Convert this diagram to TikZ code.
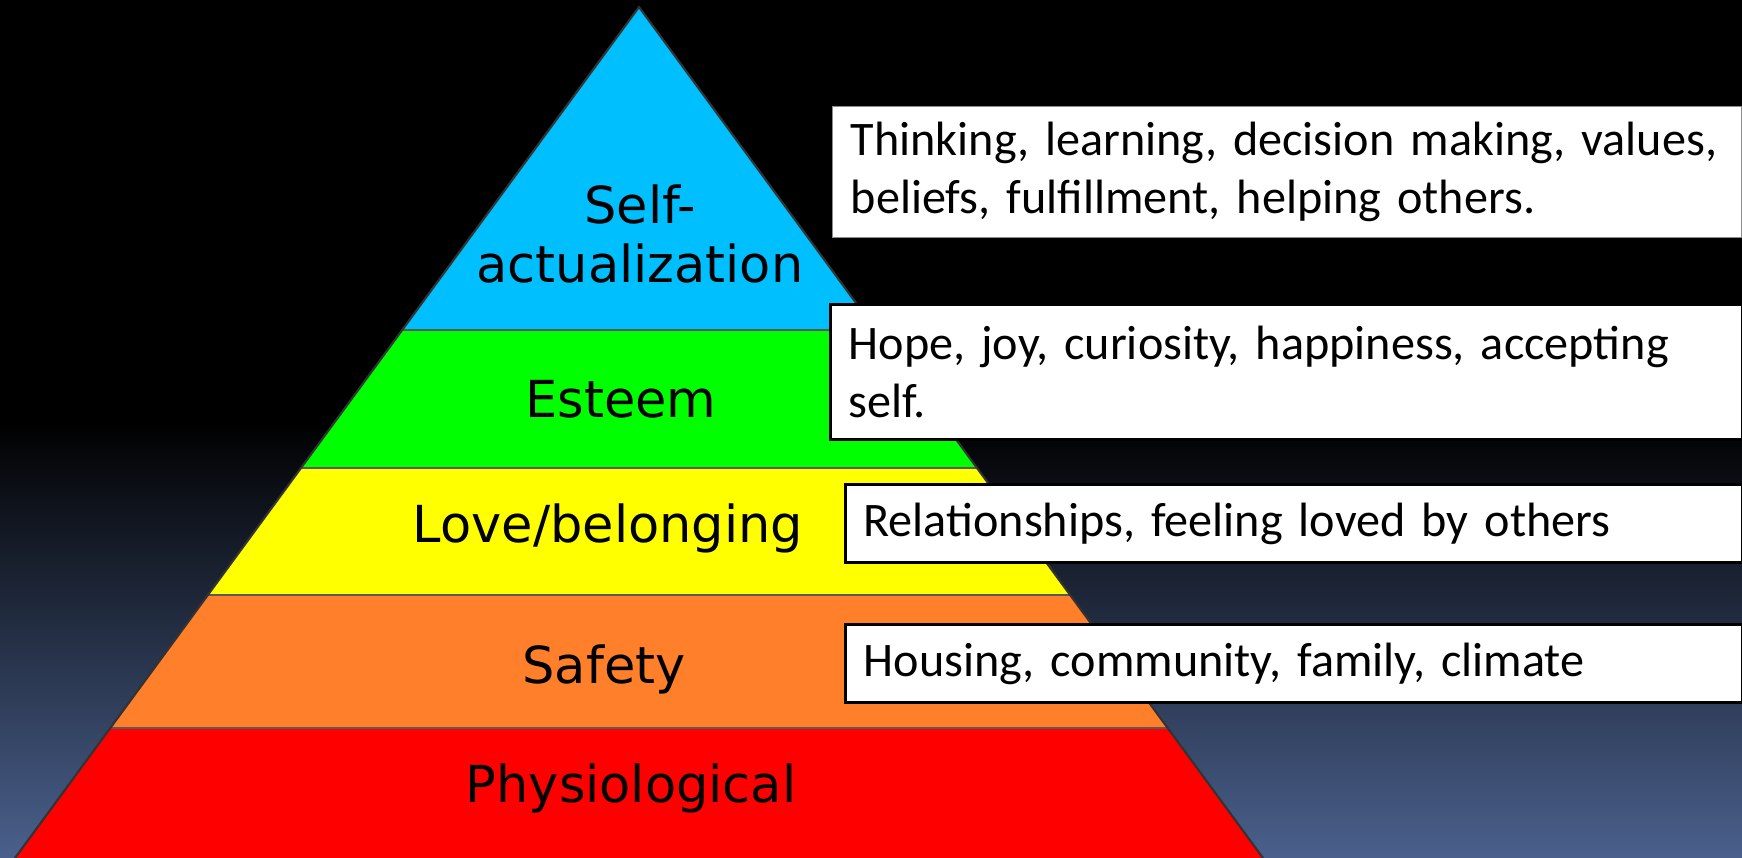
\documentclass[tikz,border=0pt]{standalone}
\usepackage{fontspec}
\newfontfamily\lvlfont{DejaVu Sans}
\newfontfamily\notefont{Carlito}
\usepackage{tikz}
\usetikzlibrary{calc}

\definecolor{tierblue}{RGB}{0,191,255}
\definecolor{tiergreen}{RGB}{0,255,0}
\definecolor{tieryellow}{RGB}{255,255,0}
\definecolor{tierorange}{RGB}{255,127,42}
\definecolor{tierred}{RGB}{255,0,0}
\definecolor{bgslate}{RGB}{74,96,140}

\begin{document}
\begin{tikzpicture}[x=0.01cm, y=-0.01cm,
 level/.style={font=\lvlfont\fontsize{14.5}{16.8}\selectfont, anchor=base,
   align=center, inner sep=0pt},
 note/.style={draw=black, line width=0.9pt, fill=white, anchor=north west,
   align=left, inner xsep=0.18cm, inner ysep=0pt,
   font=\notefont\fontsize{13.7}{16.4}\selectfont}]
 \useasboundingbox (0,0) rectangle (1742,858);
 % backdrop: black fading into slate towards the bottom
 \fill[black] (0,0) rectangle (1742,858);
 \shade[top color=black, bottom color=bgslate] (0,420) rectangle (1742,858);

 \coordinate (apex) at (639,7);
 \coordinate (bl) at (15,858);
 \coordinate (br) at (1263,858);
 \begin{scope}
  \clip (apex) -- (bl) -- (br) -- cycle;
  \fill[tierblue] (0,0) rectangle (1742,330);
  \fill[tiergreen] (0,330) rectangle (1742,468);
  \fill[tieryellow] (0,468) rectangle (1742,595);
  \fill[tierorange] (0,595) rectangle (1742,728);
  \fill[tierred] (0,728) rectangle (1742,858);
  \foreach \y in {330,468,595,728}
   \draw[black!65, line width=0.5pt] (0,\y) -- (1742,\y);
 \end{scope}
 \draw[black!80, line width=0.6pt, line join=round] (bl) -- (apex) -- (br);

 \node[level] (self) at (640,283) {Self-\\actualization};
 \node[level] (esteem) at (621,418) {Esteem};
 \node[level] (love) at (608,543) {Love/belonging};
 \node[level] (safety) at (604,683) {Safety};
 \node[level] (phys) at (631,802) {Physiological};

 \node[note, draw=black!45, line width=0.4pt, text width=8.72cm, minimum height=1.31cm] (n1) at (832,106) {Thinking, learning, decision making, values,\\beliefs, fulfillment, helping others.};
 \node[note, text width=8.75cm, minimum height=1.35cm] (n2) at (829,303) {Hope, joy, curiosity, happiness, accepting\\self.};
 \node[note, text width=8.60cm, minimum height=0.78cm] (n3) at (844,483) {Relationships, feeling loved by others};
 \node[note, text width=8.60cm, minimum height=0.78cm] (n4) at (844,623) {Housing, community, family, climate};
\end{tikzpicture}
\end{document}
